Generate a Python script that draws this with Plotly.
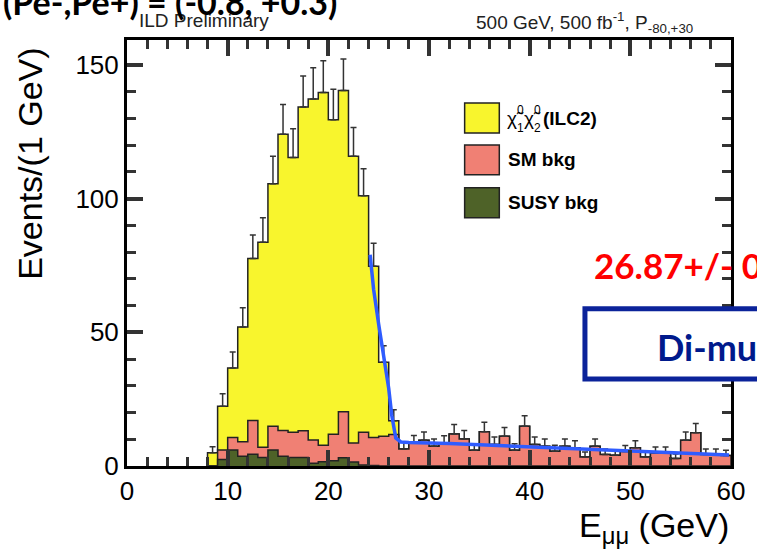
import plotly.graph_objects as go

# ---------------- data (1 GeV bins, lower edges 8..59) ----------------
bin_lo = [8, 9, 10, 11, 12, 13, 14, 15, 16, 17, 18, 19, 20, 21, 22, 23, 24, 25, 26, 27,
          28, 29, 30, 31, 32, 33, 34, 35, 36, 37, 38, 39, 40, 41, 42, 43, 44, 45, 46, 47,
          48, 49, 50, 51, 52, 53, 54, 55, 56, 57, 58, 59]
bin_hi_end = 60

signal = [5.0, 16.3, 25.9, 42.9, 60.6, 76.7, 90.6, 110.8, 102.8, 121.0, 127.5, 131.9, 117.6, 120.1,
          107.2, 88.5, 64.0, 27.7, 5.1, 0, 0, 0, 0, 0, 0, 0, 0, 0, 0, 0, 0, 0, 0, 0, 0, 0, 0, 0,
          0, 0, 0, 0, 0, 0, 0, 0, 0, 0, 0, 0, 0, 0]
sm_bkg = [0, 3.6, 4.7, 5.5, 12.6, 3.8, 8.9, 9.7, 9.4, 10.0, 8.7, 6.2, 9.9, 17.2, 7.1, 12.2, 10.5,
          11.1, 11.8, 6.4, 8.5, 9.6, 7.4, 8.4, 12.0, 10.1, 5.9, 12.8, 8.0, 11.1, 5.9, 14.9, 8.0,
          7.4, 5.5, 7.4, 6.8, 3.4, 7.4, 4.3, 4.0, 5.4, 6.8, 3.4, 4.9, 4.9, 2.8, 9.6, 12.4, 4.3,
          4.3, 3.9]
susy_bkg = [0, 2.4, 6.0, 3.6, 4.4, 3.2, 6.0, 3.6, 3.2, 3.2, 1.0, 1.6, 2.0, 3.1, 1.5, 0.4, 0.2,
            0, 0, 0, 0, 0, 0, 0, 0, 0, 0, 0, 0, 0, 0, 0, 0, 0, 0, 0, 0, 0, 0, 0, 0, 0, 0, 0, 0,
            0, 0, 0, 0, 0, 0, 0]
err_up = [2.2, 4.7, 6.0, 7.2, 8.8, 9.1, 10.3, 11.1, 10.7, 11.6, 11.7, 11.8, 11.4, 11.8, 10.8,
          10.1, 8.6, 6.2, 4.1, 2.5, 2.9, 3.1, 2.7, 2.9, 3.5, 3.2, 2.4, 3.6, 2.8, 3.3, 2.4, 3.9,
          2.8, 2.7, 2.3, 2.7, 2.6, 1.8, 2.7, 2.1, 2.0, 2.3, 2.6, 1.8, 2.2, 2.2, 1.7, 3.1, 3.5,
          2.1, 2.1, 2.0]

fit_x = [24.15, 24.5, 25.0, 25.5, 26.0, 26.3, 26.7, 27.2, 28.0, 32.0, 38.5, 43.0, 49.0, 55.7, 59.8]
fit_y = [79.0, 66.0, 53.0, 41.0, 29.0, 19.0, 10.5, 9.0, 8.8, 8.4, 7.4, 6.4, 5.7, 4.7, 4.1]

x_ticks = [0, 10, 20, 30, 40, 50, 60]
y_ticks = [0, 50, 100, 150]

C_SIG = "#f8f52d"
C_SM = "#f08074"
C_SUSY = "#4e6228"
C_OUT = "#222222"
C_FIT = "#2f5cff"
C_AX = "#000000"
C_TICK = "#333333"

# cumulative stack levels
lvl_susy = list(susy_bkg)
lvl_sm = [a + b for a, b in zip(susy_bkg, sm_bkg)]
lvl_tot = [a + b for a, b in zip(lvl_sm, signal)]


def step_xy(vals):
    xs = [bin_lo[0]] + bin_lo + [bin_hi_end, bin_hi_end]
    ys = [0] + vals + [vals[-1], 0]
    return xs, ys


fig = go.Figure()
for vals, col in [(lvl_tot, C_SIG), (lvl_sm, C_SM), (lvl_susy, C_SUSY)]:
    xs, ys = step_xy(vals)
    fig.add_trace(go.Scatter(x=xs, y=ys, mode="lines", line=dict(shape="hv", color=C_OUT, width=1.5),
                             fill="tozeroy", fillcolor=col, hoverinfo="skip", showlegend=False))

centers = [b + 0.5 for b in bin_lo]
fig.add_trace(go.Scatter(x=centers, y=lvl_tot, mode="markers",
                         marker=dict(size=1, color="rgba(0,0,0,0)"),
                         error_y=dict(type="data", array=err_up, arrayminus=[0] * len(err_up),
                                      symmetric=False, color="#333333", thickness=1.5, width=3),
                         showlegend=False, hoverinfo="skip"))

fig.add_trace(go.Scatter(x=fit_x, y=fit_y, mode="lines", line=dict(color=C_FIT, width=3.5),
                         showlegend=False, hoverinfo="skip"))

# ---------------- layout ----------------
W, H = 757, 550
L, R, T, B = 127, 20, 40, 83.5
pw = W - L - R
ph = H - T - B


def px(x):
    return (x - L) / pw


def py(y):
    return (H - B - y) / ph


axis_common = dict(showline=True, linewidth=3, linecolor=C_AX, mirror="allticks",
                   ticks="inside", ticklen=16, tickwidth=4, tickcolor=C_TICK,
                   showgrid=False, zeroline=False,
                   tickfont=dict(family="Liberation Sans, Arial, sans-serif", size=26, color="black"))

fig.update_layout(
    width=W, height=H,
    margin=dict(l=L, r=R, t=T, b=B, pad=0),
    paper_bgcolor="white", plot_bgcolor="white",
    xaxis=dict(range=[0, 60], tickmode="array", tickvals=x_ticks,
               ticktext=[str(v) for v in x_ticks],
               minor=dict(ticks="inside", ticklen=9, tickwidth=3, tickcolor=C_TICK,
                          tickmode="linear", tick0=0, dtick=2),
               **axis_common),
    yaxis=dict(range=[0, 159.3], tickmode="array", tickvals=y_ticks,
               ticktext=[str(v) for v in y_ticks],
               minor=dict(ticks="inside", ticklen=9, tickwidth=3, tickcolor=C_TICK,
                          tickmode="linear", tick0=0, dtick=10),
               **axis_common),
)

shapes = []
# legend boxes
for (y0, y1, col) in [(103, 133, C_SIG), (145, 175, C_SM), (188, 218, C_SUSY)]:
    shapes.append(dict(type="rect", xref="paper", yref="paper",
                       x0=px(468), x1=px(503), y0=py(y1), y1=py(y0),
                       fillcolor=col, line=dict(color=C_OUT, width=1.5), layer="above"))
# overlay box from slide
shapes.append(dict(type="rect", xref="paper", yref="paper",
                   x0=px(589.5), x1=px(800), y0=py(379.5), y1=py(309),
                   fillcolor="white", line=dict(color="#0b239a", width=5), layer="above"))
fig.update_layout(shapes=shapes)

SANS = "Liberation Sans, Arial, sans-serif"
BOLD = "Lato, Open Sans, sans-serif"
ann = []


def add(text, x, y, size, color="black", family=SANS, xanchor="left", yanchor="middle", angle=0):
    ann.append(dict(text=text, x=px(x), y=py(y), xref="paper", yref="paper", showarrow=False,
                    xanchor=xanchor, yanchor=yanchor, textangle=angle,
                    font=dict(size=size, color=color, family=family)))


# legend labels
add("χ̃", 509, 119, 19)
add("0", 519, 110, 12)
add("1", 519, 128, 12)
add("χ̃", 526, 119, 19)
add("0", 536, 110, 12)
add("2", 536, 128, 12)
add("<b>(ILC2)</b>", 545, 119, 19)
add("<b>SM bkg</b>", 510, 160, 19)
add("<b>SUSY bkg</b>", 510, 203, 19)

# header texts
add("ILD Preliminary", 137, 20, 19, color="#222222")
add("500 GeV, 500 fb<sup>-1</sup>, P<sub>-80,+30</sub>", 477, 22, 19, color="#222222")
add("<b>(Pe-,Pe+) = (-0.8, +0.3)</b>", 0, 1, 34, family=BOLD)

# axis titles
add("E<sub>μμ</sub> (GeV)", 737, 528, 34, xanchor="right")
add("Events/(1 GeV)", 29, 164, 34, xanchor="center", angle=-90)

# slide overlay texts
add("<b>26.87+/- 0</b>", 597, 265, 35, color="#ff0000", family=BOLD)
add("<b>Di-muon</b>", 660, 347, 36, color="#001a8c", family=BOLD)

fig.update_layout(annotations=ann)

fig.write_html("out.html")
